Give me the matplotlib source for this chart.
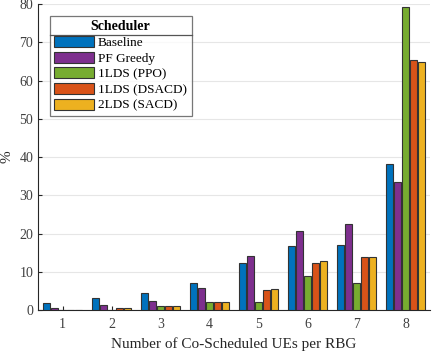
import numpy as np
import matplotlib
matplotlib.use("Agg")
import matplotlib.pyplot as plt
from matplotlib.lines import Line2D

# ============================================================
# DATOS
# ============================================================
ues_por_rbg = [1, 2, 3, 4, 5, 6, 7, 8]

schedulers = ["Baseline", "PF Greedy", "1LDS (PPO)", "1LDS (DSACD)", "2LDS (SACD)"]

baseline = [1.8, 3.1, 4.5, 7.1, 12.3, 16.7, 17.0, 38.3]
pf_greedy = [0.6, 1.2, 2.4, 5.8, 14.2, 20.7, 22.6, 33.4]
lds_ppo = [0.1, 0.1, 1.1, 2.1, 2.2, 8.9, 7.0, 79.1]
lds_dsacd = [0.1, 0.6, 1.0, 2.1, 5.3, 12.3, 13.8, 65.3]
lds2_sacd = [0.1, 0.6, 1.0, 2.1, 5.6, 12.8, 13.8, 64.9]

series = [baseline, pf_greedy, lds_ppo, lds_dsacd, lds2_sacd]
colores = ["#0072BD", "#7E2F8E", "#77AC30", "#D95319", "#EDB120"]

# ============================================================
# GRAFICO
# ============================================================
plt.rcParams["font.family"] = ["Liberation Serif", "DejaVu Serif"]

fig = plt.figure(figsize=(4.32, 3.52), dpi=100)
ax = fig.add_axes([38 / 432, 1 - 310 / 352, 392 / 432, 306 / 352])

x = np.array(ues_por_rbg, dtype=float)
n = len(series)
ancho = 0.8 / n
for i, (vals, c, nombre) in enumerate(zip(series, colores, schedulers)):
    off = (i - (n - 1) / 2) * ancho
    ax.bar(x + off, vals, width=ancho * 0.92, color=c, edgecolor="#333333",
           linewidth=0.8, label=nombre, zorder=3)

ax.set_xlim(0.5, 8.5)
ax.set_ylim(0, 80)
ax.set_xticks(ues_por_rbg)
ax.set_yticks(np.arange(0, 81, 10))
ax.grid(axis="y", color="#e6e6e6", linewidth=0.8, zorder=0)
ax.set_axisbelow(True)

for s in ["top", "right"]:
    ax.spines[s].set_visible(False)
for s in ["left", "bottom"]:
    ax.spines[s].set_color("#262626")
    ax.spines[s].set_linewidth(0.8)

ax.tick_params(direction="in", length=3, colors="#262626", labelsize=10,
               labelcolor="#404040")
ax.tick_params(axis="x", pad=6)

ax.set_xlabel("Number of Co-Scheduled UEs per RBG", fontsize=11, color="#262626")
ax.set_ylabel("%", fontsize=11, color="#262626")

leg = ax.legend(loc="upper left", bbox_to_anchor=(0.03, 0.962), fontsize=9.5,
                title="Scheduler", title_fontproperties={"weight": "bold", "size": 10},
                frameon=True, fancybox=False, edgecolor="#555555",
                handlelength=3.0, handleheight=0.9, handletextpad=0.3,
                labelspacing=0.2, borderpad=0.35, borderaxespad=0)
leg.get_frame().set_linewidth(0.9)

# linea separadora bajo el titulo de la leyenda
fig.canvas.draw()
r = fig.canvas.get_renderer()
bb_leg = leg.get_window_extent(r)
bb_tit = leg.get_title().get_window_extent(r)
y_sep = bb_tit.y0 - 2
inv = fig.transFigure.inverted()
(x0f, yf) = inv.transform((bb_leg.x0, y_sep))
(x1f, _) = inv.transform((bb_leg.x1, y_sep))
fig.add_artist(Line2D([x0f, x1f], [yf, yf], color="#555555", linewidth=0.9,
                      transform=fig.transFigure, zorder=10))

plt.savefig("out.png", dpi=100)
